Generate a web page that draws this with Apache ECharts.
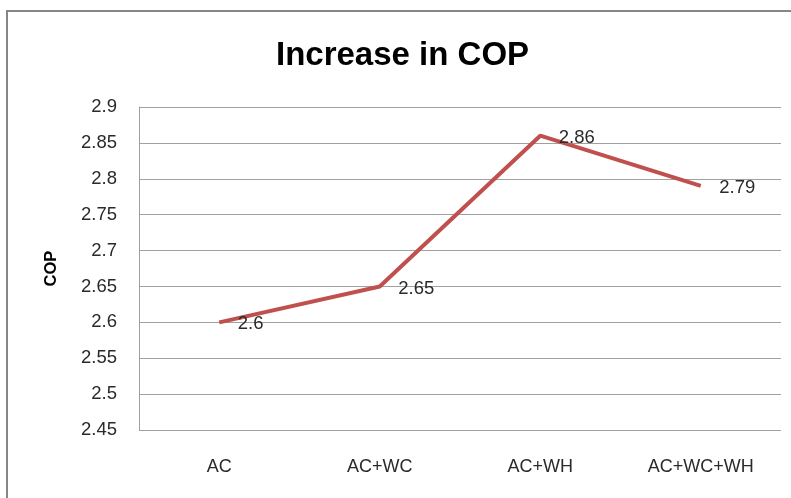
<!DOCTYPE html>
<html><head><meta charset="utf-8">
<script src="https://cdn.jsdelivr.net/npm/echarts@6/dist/echarts.min.js"></script>
<style>html,body{margin:0;padding:0;background:#fff}#c{width:791px;height:498px}</style>
</head><body><div id="c"></div>
<script>
const categories = ['AC', 'AC+WC', 'AC+WH', 'AC+WC+WH'];
const copValues = [2.6, 2.65, 2.86, 2.79];
const yMin = 2.45, yMax = 2.9, yStep = 0.05;

const chart = echarts.init(document.getElementById('c'));
const font = 'Liberation Sans';
chart.setOption({
  animation: false,
  title: {
    text: 'Increase in COP', left: 271, top: 34,
    textStyle: { fontFamily: font, fontSize: 33, fontWeight: 'bold', color: '#000' }
  },
  graphic: [{
    type: 'rect', shape: { x: 7, y: 11, width: 800, height: 500 },
    style: { fill: 'none', stroke: '#868686', lineWidth: 2 }, silent: true
  }],
  grid: { left: 139, right: 10, top: 107, bottom: 68 },
  xAxis: {
    type: 'category', data: categories, boundaryGap: true,
    axisLine: { show: false }, axisTick: { show: false },
    axisLabel: { fontFamily: font, fontSize: 18, color: '#2a2a2a', margin: 28 }
  },
  yAxis: {
    type: 'value', min: yMin, max: yMax, interval: yStep,
    name: 'COP', nameLocation: 'middle', nameGap: 79, nameRotate: 90,
    nameTextStyle: { fontFamily: font, fontSize: 16.5, fontWeight: 'bold', color: '#000' },
    axisLine: { show: true, lineStyle: { color: '#a0a0a0', width: 1 } },
    axisTick: { show: false },
    splitLine: { show: true, lineStyle: { color: '#a0a0a0', width: 1 } },
    axisLabel: { fontFamily: font, fontSize: 18.5, color: '#2a2a2a', margin: 22,
      formatter: v => String(parseFloat(v.toFixed(2))) }
  },
  series: [{
    type: 'line', data: copValues, symbol: 'circle', symbolSize: 1, showSymbol: true,
    itemStyle: { color: 'rgba(0,0,0,0)' },
    lineStyle: { color: '#C0504D', width: 4 },
    label: { show: true, position: 'right', distance: 18, offset: [0, 2],
      fontFamily: font, fontSize: 18.5, color: '#2a2a2a' }
  }]
});
</script></body></html>
